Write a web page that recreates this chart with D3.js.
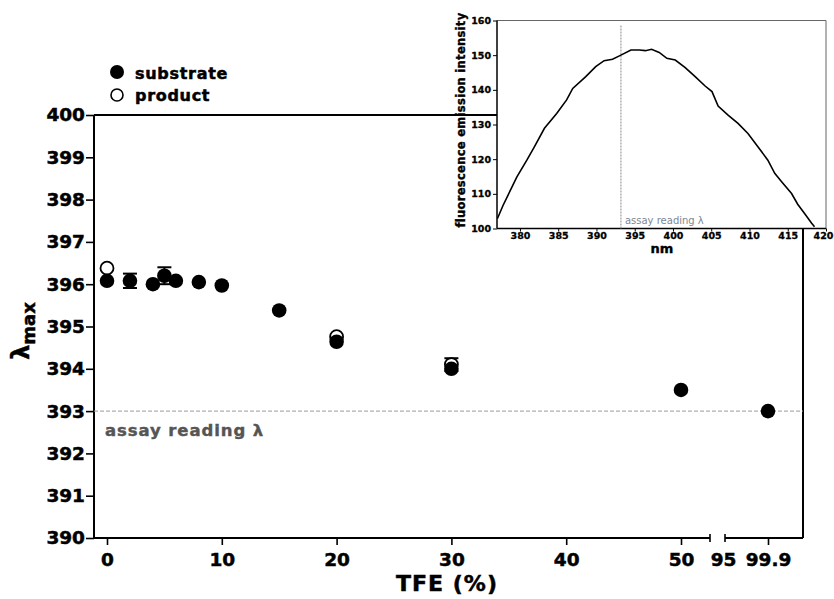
<!DOCTYPE html>
<html><head><meta charset="utf-8">
<script src="https://cdn.jsdelivr.net/npm/d3@7"></script>
<style>body{margin:0;background:#fff}svg{display:block}text{font-family:"DejaVu Sans",Verdana,sans-serif}</style>
</head><body><svg id="c" width="834" height="599"></svg>
<script>
// ---- main chart data ----
const tfe = [0, 2, 4, 5, 6, 8, 10, 15, 20, 30, 50, 99.9];
const substrate = [396.08, 396.08, 396.0, 396.2, 396.08, 396.05, 395.97, 395.38, 394.64, 394.0, 393.5, 393.0];
const substrateErr = [0, 0.17, 0, 0.2, 0, 0, 0, 0, 0, 0, 0, 0];
const productTfe = [0, 20, 30];
const product = [396.38, 394.76, 394.1];
const productErr = [0, 0, 0.15];
const yTicks = [390, 391, 392, 393, 394, 395, 396, 397, 398, 399, 400];
const xTicks1 = [0, 10, 20, 30, 40, 50];
const xTicks2 = [95, 99.9];
const assayLambda = 393;
// ---- inset spectrum data ----
const spectrumNm = [377.06, 377.8, 379.6, 380.9, 381.9, 383.2, 384.8, 386.1, 386.9, 388.6, 389.9, 391.0, 392.1, 393.0, 394.5, 395.6, 396.4, 397.2, 398.2, 399.2, 400.3, 401.6, 402.9, 404.2, 405.1, 405.9, 407.2, 408.5, 409.8, 411.1, 412.4, 413.3, 414.2, 415.5, 416.3, 417.2, 418.1, 418.5];
const spectrumIntensity = [102.9, 106.7, 114.9, 119.7, 123.6, 128.9, 133.2, 137.1, 140.4, 143.8, 146.7, 148.4, 148.8, 149.8, 151.5, 151.5, 151.3, 151.7, 150.8, 149.1, 148.6, 146.4, 143.8, 141.1, 139.5, 135.3, 132.7, 130.3, 127.4, 123.6, 119.7, 115.9, 113.5, 110.1, 107.0, 104.3, 101.6, 100.5];
const insetXTicks = [380, 385, 390, 395, 400, 405, 410, 415, 420];
const insetYTicks = [100, 110, 120, 130, 140, 150, 160];
const insetReading = 393.2;

const svg = d3.select("#c");
const heavy = sel => sel.attr("font-weight", "bold").attr("stroke", "#000").attr("stroke-width", 0.5).attr("fill", "#000");

// ---- main scales ----
const L = 94, R = 803, T = 115, B = 538;
const y = d3.scaleLinear().domain([390, 400]).range([B, T]);
const x1 = d3.scaleLinear().domain([0, 50]).range([107, 681]);
const x2 = d3.scaleLinear().domain([95, 99.9]).range([723, 768]);
const seg1 = [L, 710], seg2 = [725, R];
const xOf = v => v >= 90 ? x2(v) : x1(v);

const g = svg.append("g");

// y axis
const ya = g.append("g").attr("transform", `translate(${L},0)`)
  .call(d3.axisLeft(y).tickValues(yTicks).tickSize(8).tickPadding(1).tickFormat(d3.format("d")));
ya.select(".domain").remove();
ya.selectAll(".tick line").attr("stroke", "#000").attr("stroke-width", 1.6);
heavy(ya.selectAll("text").attr("font-size", 18.5));

// x axis segment 1
const xa1 = g.append("g").attr("transform", `translate(0,${B})`)
  .call(d3.axisBottom(x1).tickValues(xTicks1).tickSize(7).tickPadding(8).tickFormat(d3.format("d")));
xa1.select(".domain").remove();
xa1.selectAll(".tick line").attr("stroke", "#000").attr("stroke-width", 1.6);
heavy(xa1.selectAll("text").attr("font-size", 18.5));

// x axis segment 2
const xa2 = g.append("g").attr("transform", `translate(0,${B})`)
  .call(d3.axisBottom(x2).tickValues(xTicks2).tickSize(7).tickPadding(8).tickFormat(d => String(d)));
xa2.select(".domain").remove();
xa2.selectAll(".tick line").attr("stroke", "#000").attr("stroke-width", 1.6)
  .attr("display", d => d === 95 ? "none" : null);
heavy(xa2.selectAll("text").attr("font-size", 18.5));

// frame lines
const frame = g.append("g").attr("stroke", "#000").attr("stroke-width", 2).attr("fill", "none");
frame.append("line").attr("x1", L).attr("x2", L).attr("y1", T).attr("y2", B);
frame.append("line").attr("x1", L).attr("x2", R).attr("y1", T).attr("y2", T);
frame.append("line").attr("x1", R).attr("x2", R).attr("y1", T).attr("y2", B);
frame.append("line").attr("x1", seg1[0]).attr("x2", seg1[1]).attr("y1", B).attr("y2", B);
frame.append("line").attr("x1", seg2[0]).attr("x2", seg2[1]).attr("y1", B).attr("y2", B);
// break marks
[seg1[1], seg2[0]].forEach(xx => {
  frame.append("line").attr("x1", xx).attr("x2", xx).attr("y1", B - 4).attr("y2", B + 4).attr("stroke-width", 1.6);
});

// assay reading line
g.append("line").attr("x1", L).attr("x2", R).attr("y1", y(assayLambda)).attr("y2", y(assayLambda))
  .attr("stroke", "#9a9a9a").attr("stroke-width", 1).attr("stroke-dasharray", "4,2");
g.append("text").attr("x", 105).attr("y", 436).attr("font-size", 16.5).attr("font-weight", "bold")
  .attr("letter-spacing", 0.9).attr("fill", "#555").attr("stroke", "#555").attr("stroke-width", 0.4)
  .text("assay reading λ");

// axis titles
heavy(g.append("text").attr("x", 447).attr("y", 591).attr("text-anchor", "middle")
  .attr("font-size", 22).attr("letter-spacing", 1).text("TFE (%)"));
const yt = heavy(g.append("text").attr("transform", "translate(29,331) rotate(-90)")
  .attr("text-anchor", "middle"));
yt.append("tspan").attr("font-size", 24).text("λ");
yt.append("tspan").attr("font-size", 18).attr("dy", 6).text("max");

// error bars
const errs = [];
tfe.forEach((t, i) => { if (substrateErr[i] > 0) errs.push([t, substrate[i], substrateErr[i]]); });
productTfe.forEach((t, i) => { if (productErr[i] > 0) errs.push([t, product[i], productErr[i]]); });
const eb = g.append("g").attr("stroke", "#000").attr("stroke-width", 2);
errs.forEach(([t, v, e]) => {
  const cx = xOf(t);
  eb.append("line").attr("x1", cx).attr("x2", cx).attr("y1", y(v - e)).attr("y2", y(v + e));
  eb.append("line").attr("x1", cx - 7).attr("x2", cx + 7).attr("y1", y(v + e)).attr("y2", y(v + e));
  eb.append("line").attr("x1", cx - 7).attr("x2", cx + 7).attr("y1", y(v - e)).attr("y2", y(v - e));
});

// product (open)
g.append("g").selectAll("circle").data(productTfe.map((t, i) => [t, product[i]])).join("circle")
  .attr("cx", d => xOf(d[0])).attr("cy", d => y(d[1])).attr("r", 6.5)
  .attr("fill", "#fff").attr("stroke", "#000").attr("stroke-width", 1.8);
// substrate (filled)
g.append("g").selectAll("circle").data(tfe.map((t, i) => [t, substrate[i]])).join("circle")
  .attr("cx", d => xOf(d[0])).attr("cy", d => y(d[1])).attr("r", 7.3).attr("fill", "#000");

// legend
const lg = g.append("g");
lg.append("circle").attr("cx", 117).attr("cy", 72).attr("r", 7).attr("fill", "#000");
heavy(lg.append("text").attr("x", 135).attr("y", 78.5).attr("font-size", 16).attr("letter-spacing", 0.7).text("substrate"));
lg.append("circle").attr("cx", 117).attr("cy", 95).attr("r", 6).attr("fill", "#fff").attr("stroke", "#000").attr("stroke-width", 1.6);
heavy(lg.append("text").attr("x", 135).attr("y", 101).attr("font-size", 16).attr("letter-spacing", 0.7).text("product"));

// ---- inset ----
const iL = 497, iR = 826, iT = 20.5, iB = 228.5;
const ix = d3.scaleLinear().domain([377, 420]).range([iL, iR]);
const iy = d3.scaleLinear().domain([100, 160]).range([iB, iT]);
const ig = svg.append("g");
ig.append("rect").attr("x", iL).attr("y", iT).attr("width", iR - iL).attr("height", iB - iT).attr("fill", "#fff");
ig.append("line").attr("x1", iL).attr("x2", iR).attr("y1", iT).attr("y2", iT).attr("stroke", "#666").attr("stroke-width", 1);
ig.append("line").attr("x1", iR).attr("x2", iR).attr("y1", iT).attr("y2", iB).attr("stroke", "#666").attr("stroke-width", 1);

const iya = ig.append("g").attr("transform", `translate(${iL},0)`)
  .call(d3.axisLeft(iy).tickValues(insetYTicks).tickSize(4).tickPadding(2));
iya.select(".domain").remove();
iya.selectAll(".tick line").attr("stroke", "#000");
iya.selectAll("text").attr("font-size", 9.5).attr("font-weight", "bold").attr("fill", "#000")
  .attr("stroke", "#000").attr("stroke-width", 0.3);

const ixa = ig.append("g").attr("transform", `translate(0,${iB})`)
  .call(d3.axisBottom(ix).tickValues(insetXTicks).tickSize(3).tickPadding(1));
ixa.select(".domain").remove();
ixa.selectAll(".tick line").attr("stroke", "#000");
ixa.selectAll("text").attr("font-size", 9.5).attr("font-weight", "bold").attr("fill", "#000")
  .attr("stroke", "#000").attr("stroke-width", 0.3)
  .attr("dx", d => d === 420 ? -3 : 0);

ig.append("line").attr("x1", iL).attr("x2", iL).attr("y1", iT).attr("y2", iB).attr("stroke", "#000").attr("stroke-width", 1.5);
ig.append("line").attr("x1", iL).attr("x2", iR).attr("y1", iB).attr("y2", iB).attr("stroke", "#000").attr("stroke-width", 1.5);

ig.append("line").attr("x1", ix(insetReading)).attr("x2", ix(insetReading)).attr("y1", iT + 5).attr("y2", iB)
  .attr("stroke", "#8a8a8a").attr("stroke-width", 1).attr("stroke-dasharray", "2,1");
ig.append("text").attr("x", ix(insetReading) + 4).attr("y", 224).attr("font-size", 10)
  .attr("fill", "#7d8794").text("assay reading λ");

ig.append("path").datum(spectrumNm.map((n, i) => [n, spectrumIntensity[i]]))
  .attr("d", d3.line().x(d => ix(d[0])).y(d => iy(d[1])))
  .attr("fill", "none").attr("stroke", "#000").attr("stroke-width", 1.6);

ig.append("text").attr("x", 662).attr("y", 253).attr("text-anchor", "middle")
  .attr("font-size", 13).attr("font-weight", "bold").attr("stroke", "#000").attr("stroke-width", 0.4).text("nm");
ig.append("text").attr("transform", "translate(465,120) rotate(-90)").attr("text-anchor", "middle")
  .attr("font-size", 11.5).attr("letter-spacing", 0.3).attr("font-weight", "bold")
  .attr("stroke", "#000").attr("stroke-width", 0.35).text("fluorescence emission intensity");
</script></body></html>
